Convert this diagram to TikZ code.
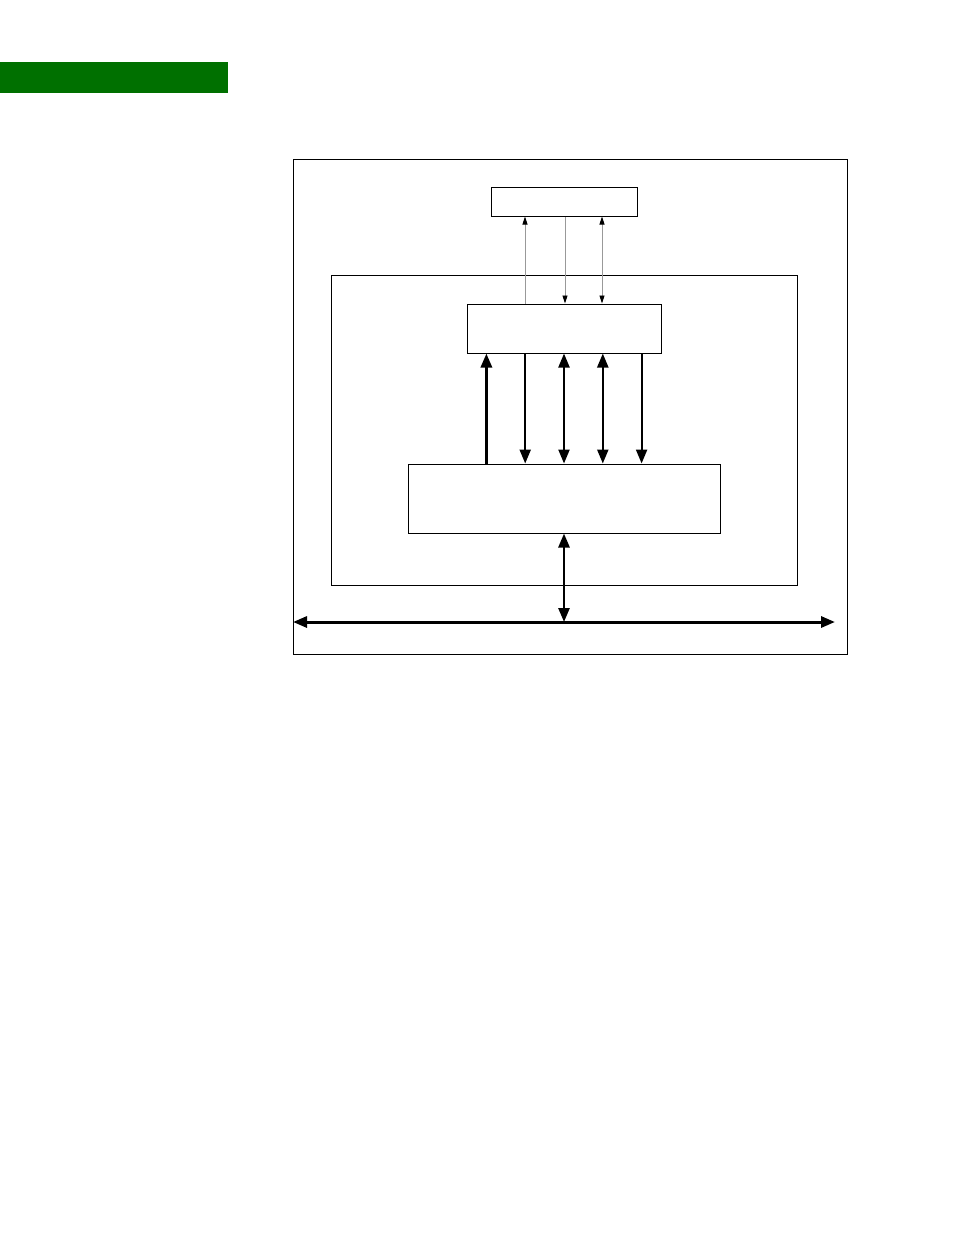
\documentclass[tikz,border=0pt]{standalone}
\usetikzlibrary{arrows.meta,positioning}
\definecolor{banner}{rgb}{0,0.44,0}
\definecolor{thinline}{gray}{0.6}
\tikzset{box/.style={draw, line width=1pt, inner sep=0pt, fill=white}}
\tikzset{flow/.style={line width=2.2pt}, sig/.style={draw=thinline, line width=0.8pt, >={Triangle[length=8pt,width=5pt,black]}}}

\begin{document}
\begin{tikzpicture}[x=1pt, y=-1pt, >={Triangle[length=14pt,width=11pt]}]
	\useasboundingbox (0,0) rectangle (954,1235);
	\node[fill=banner, inner sep=0pt, minimum width=228pt, minimum height=31pt] (bar) at (114,77.5) {};
	
	\node[box, minimum width=554pt, minimum height=495pt] (outer) at (570,406.5) {};
	\node[box, minimum width=466pt, minimum height=310pt] (inner) at (564,430) {};
	\node[box, minimum width=146pt, minimum height=29pt] (top) at (564,201.5) {};
	\node[box, minimum width=194pt, minimum height=49pt] (mid) [below = 87pt of top] {};
	\node[box, minimum width=312pt, minimum height=69pt] (low) [below = 110pt of mid] {};
	
	\coordinate (busL) at (293,622);
	\coordinate (busR) at (835,622);
	
	
	\draw[sig, ->] ([xshift=-39pt]mid.north) -- ([xshift=-39pt]top.south);
	\draw[sig, <-] ([xshift=1pt]mid.north) -- ([xshift=1pt]top.south);
	\draw[sig, <->] ([xshift=38pt]mid.north) -- ([xshift=38pt]top.south);
	
	\foreach \k/\tip/\w in {-2/->/3pt, -1/<-/2.2pt, 0/<->/2.2pt, 1/<->/2.2pt, 2/<-/2.2pt}
		\draw[flow, \tip, line width=\w] ([xshift=\k*38.8pt]low.north) -- ([xshift=\k*38.8pt]mid.south);
	
	\draw[flow, <->, line width=2.6pt] (low.south) -- (low.south |- busL);
	\draw[flow, <->, line width=3pt] (busL) -- (busR);
\end{tikzpicture}
\end{document}
